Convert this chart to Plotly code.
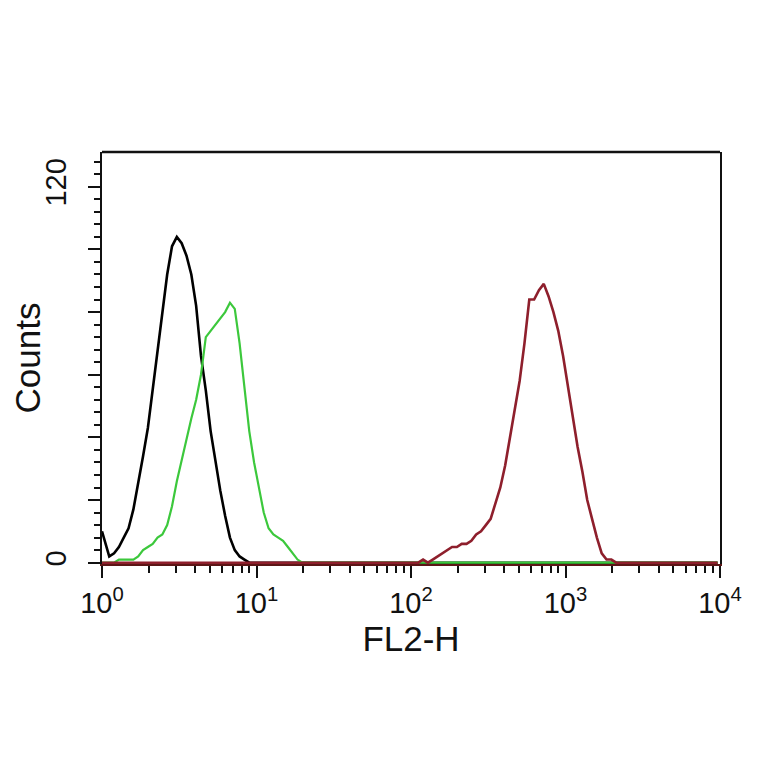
import plotly.graph_objects as go

# Histogram channels: 128 log-spaced bins over 4 decades (32 per decade)
n_channels = 128
bins_per_decade = 32

# Counts per channel (start channel + consecutive values)
black_start = 0
black_counts = [10, 2, 3, 5, 8, 11, 17, 25, 34, 43, 55, 68, 80, 92, 101, 104,
                102, 98, 92, 82, 66, 55, 42, 32, 23, 15, 8, 4, 2, 1]

green_start = 3
green_counts = [1, 1, 1, 1, 2, 4, 5, 6, 8, 9, 12, 18, 26, 33, 40, 46, 52, 60,
                72, 74, 76, 78, 80, 83, 81, 70, 55, 42, 32, 24, 16, 11, 9, 8,
                7, 5, 3, 1]

red_start = 66
red_counts = [1, 0, 1, 2, 3, 4, 5, 5, 6, 6, 7, 9, 10, 12, 14, 19, 24, 31, 40,
              48, 58, 70, 84, 84, 87, 89, 85, 80, 74, 66, 56, 46, 37, 29, 20,
              14, 8, 3, 1, 1]

x_tickvals = [1, 10, 100, 1000, 10000]
x_ticktext = ["10<sup>0</sup>", "10<sup>1</sup>", "10<sup>2</sup>",
              "10<sup>3</sup>", "10<sup>4</sup>"]
y_tickvals = [0, 20, 40, 60, 80, 100, 120]
y_ticktext = ["0", "", "", "", "", "", "120"]


def full_hist(start, counts):
    vals = [0] * n_channels
    for i, c in enumerate(counts):
        vals[start + i] = c
    return vals


centers = [10 ** ((i + 0.5) / bins_per_decade) for i in range(n_channels)]
centers[0] = 1.0

series = [
    ("Isotype", black_start, black_counts, "#000000", 2.6),
    ("Unstained", green_start, green_counts, "#3cc83c", 2.2),
    ("Stained", red_start, red_counts, "#8e1f2c", 2.6),
]

fig = go.Figure()
for name, start, counts, color, w in series:
    fig.add_trace(go.Scatter(
        x=centers, y=full_hist(start, counts), mode="lines", name=name,
        line=dict(color=color, width=w), showlegend=False,
    ))

minor_x = [m * 10 ** d for d in range(4) for m in range(2, 10)]

font = dict(family="Liberation Sans, Arial, sans-serif", size=29, color="#111111")

fig.update_layout(
    width=764, height=764,
    margin=dict(l=94, r=52, t=144, b=208),
    paper_bgcolor="white", plot_bgcolor="white",
    font=font,
    xaxis=dict(
        type="log", range=[0, 4], automargin=False,
        tickvals=x_tickvals, ticktext=x_ticktext,
        ticks="outside", ticklen=12, tickwidth=2, tickcolor="#111",
        showline=True, linecolor="#5c1616", linewidth=2, mirror=False,
        showgrid=False, zeroline=False, layer="below traces",
        minor=dict(tickvals=minor_x, ticks="outside", ticklen=7,
                   tickwidth=2, tickcolor="#111", showgrid=False),
        title=dict(text="FL2-H", standoff=2),
    ),
    yaxis=dict(
        range=[-0.42, 131.1], automargin=False,
        tickvals=y_tickvals, ticktext=y_ticktext, tickangle=-90,
        ticklabelstandoff=10,
        ticks="outside", ticklen=12, tickwidth=2, tickcolor="#111",
        showline=True, linecolor="#111", linewidth=2, mirror=True,
        showgrid=False, zeroline=False,
        minor=dict(dtick=4, tick0=0, ticks="outside", ticklen=6,
                   tickwidth=2, tickcolor="#111", showgrid=False),
        title=dict(text="Counts", standoff=10),
    ),
    shapes=[dict(type="line", xref="paper", yref="paper", x0=0, x1=1,
                 y0=1, y1=1, line=dict(color="#111", width=2.5))],
)

fig.write_html("out.html")
